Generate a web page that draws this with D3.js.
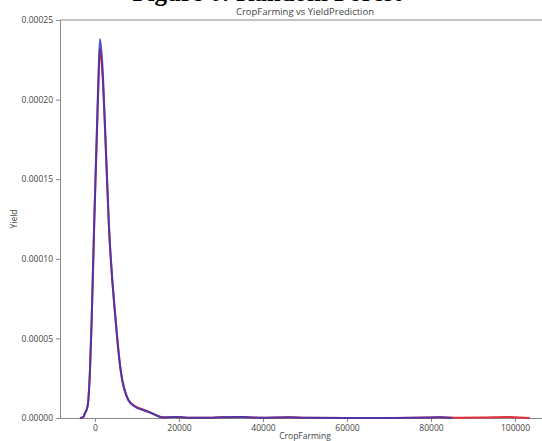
<!DOCTYPE html>
<html>
<head>
<meta charset="utf-8">
<script src="https://cdn.jsdelivr.net/npm/d3@7"></script>
<style>
  body { margin: 0; background: #fff; }
  svg { display: block; }
</style>
</head>
<body>
<div id="chart"></div>
<script>
// x values (CropFarming) and density (Yield)
var actualX = [-3600, -2800, -2400, -1800, -1600, -1200, -800, -200, 480, 830, 1150, 1250, 1900, 2400, 3300, 4900, 6100, 7900, 9500, 11500, 13500, 16200, 19000, 22000, 27000, 30000, 35000, 40000, 46000, 50000, 60000, 70000, 80000, 82000, 86000, 92000, 98000, 101000, 103500];
var actualY = [0, 0.0000005, 0.000003, 0.000007, 0.000011, 0.00003, 0.000061, 0.00012, 0.00018, 0.00021, 0.000232, 0.000231, 0.00021, 0.00018, 0.000121, 0.000061, 0.00003, 0.0000115, 0.0000075, 0.0000052, 0.0000031, 0.0000004, 0.0000007, 0.0000002, 0.0000001, 0.0000004, 0.0000006, 0.0000001, 0.0000004, 0.0000001, 0.00000005, 0.00000005, 0.0000003, 0.0000004, 0.0000002, 0.0000003, 0.0000006, 0.0000003, 0];

var predX = [-3500, -2790, -2380, -1790, -1600, -1190, -790, -200, 480, 830, 1190, 1900, 2380, 3300, 4930, 6120, 7930, 9520, 11500, 13500, 16200, 19000, 22000, 27000, 30000, 35000, 40000, 46000, 50000, 60000, 70000, 80000, 82000, 85000];
var predY = [0, 0.0000005, 0.000003, 0.000007, 0.000011, 0.00003, 0.0000616, 0.000122, 0.000184, 0.000215, 0.000238, 0.000215, 0.000184, 0.000122, 0.0000616, 0.00003, 0.0000113, 0.0000071, 0.000005, 0.000003, 0.0000003, 0.0000006, 0.0000002, 0.0000001, 0.0000004, 0.0000006, 0.0000001, 0.0000004, 0.0000001, 0.00000005, 0.00000005, 0.0000003, 0.0000005, 0];

var xTicks = [0, 20000, 40000, 60000, 80000, 100000];
var yTicks = [0, 0.00005, 0.0001, 0.00015, 0.0002, 0.00025];

var width = 542, height = 441;
var plotLeft = 60, plotRight = 550, plotTop = 20, plotBottom = 418;

var svg = d3.select("#chart").append("svg")
    .attr("width", width)
    .attr("height", height);

var x = d3.scaleLinear().domain([-8333, 108333]).range([plotLeft, plotRight]);
var y = d3.scaleLinear().domain([0, 0.00025]).range([plotBottom, plotTop]);

// caption cut off by the top edge
svg.append("text")
    .attr("x", 267).attr("y", 1)
    .attr("text-anchor", "middle")
    .style("font-family", "'Liberation Serif', serif")
    .style("font-weight", "bold")
    .style("font-size", "25px")
    .text("Figure 6: Random Forest");

svg.append("text")
    .attr("x", 305).attr("y", 15)
    .attr("text-anchor", "middle")
    .style("font-family", "'Open Sans', sans-serif")
    .style("font-size", "9.5px")
    .style("fill", "#444")
    .text("CropFarming vs YieldPrediction");

var xAxis = svg.append("g")
    .attr("transform", "translate(0," + plotBottom + ")")
    .call(d3.axisBottom(x).tickValues(xTicks).tickSize(4).tickSizeOuter(0).tickFormat(d3.format("d")));

var yAxis = svg.append("g")
    .attr("transform", "translate(" + plotLeft + ",0)")
    .call(d3.axisLeft(y).tickValues(yTicks).tickSize(4).tickSizeOuter(0).tickFormat(d3.format(".5f")));

[xAxis, yAxis].forEach(function(a) {
    a.select(".domain").attr("stroke", "#888");
    a.selectAll(".tick line").attr("stroke", "#888");
    a.selectAll(".tick text")
        .style("font-family", "'Open Sans', sans-serif")
        .style("font-size", "8.5px")
        .style("fill", "#444");
});

// top spine
svg.append("line")
    .attr("x1", plotLeft).attr("x2", width)
    .attr("y1", plotTop).attr("y2", plotTop)
    .attr("stroke", "#888");

var line = d3.line()
    .x(function(d) { return x(d[0]); })
    .y(function(d) { return y(d[1]); })
    .curve(d3.curveMonotoneX);

svg.append("path")
    .datum(d3.zip(actualX, actualY))
    .attr("d", line)
    .attr("fill", "none")
    .attr("stroke", "#e0303c")
    .attr("stroke-width", 2);

svg.append("path")
    .datum(d3.zip(predX, predY))
    .attr("d", line)
    .attr("fill", "none")
    .attr("stroke", "#3535b5")
    .attr("stroke-opacity", 0.85)
    .attr("stroke-width", 2);

svg.append("text")
    .attr("x", 305).attr("y", 439)
    .attr("text-anchor", "middle")
    .style("font-family", "'Open Sans', sans-serif")
    .style("font-size", "8.5px")
    .style("fill", "#444")
    .text("CropFarming");

svg.append("text")
    .attr("transform", "translate(17,219) rotate(-90)")
    .attr("text-anchor", "middle")
    .style("font-family", "'Open Sans', sans-serif")
    .style("font-size", "8.5px")
    .style("fill", "#444")
    .text("Yield");
</script>
</body>
</html>
